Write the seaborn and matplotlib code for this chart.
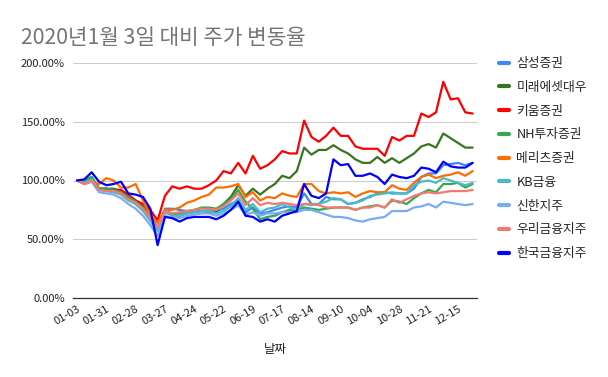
import numpy as np
import pandas as pd
import matplotlib
matplotlib.use('Agg')
import matplotlib.pyplot as plt
from matplotlib.ticker import PercentFormatter
from matplotlib.lines import Line2D
import seaborn as sns

# =============================================================================
# DATOS (% respecto al 2020-01-03)
# =============================================================================
fechas = ['01-03', '01-10', '01-17', '01-24', '01-31', '02-07', '02-14', '02-21', '02-28', '03-06',
          '03-13', '03-20', '03-27', '04-03', '04-10', '04-17', '04-24', '05-01', '05-08', '05-15',
          '05-22', '05-29', '06-05', '06-12', '06-19', '06-26', '07-03', '07-10', '07-17', '07-24',
          '07-31', '08-07', '08-14', '08-21', '08-28', '09-04', '09-10', '09-16', '09-22', '09-28',
          '10-04', '10-10', '10-16', '10-22', '10-28', '11-03', '11-09', '11-15', '11-21', '11-27',
          '12-03', '12-09', '12-15', '12-21', '12-27']

samsung = [100, 98, 101, 93, 92, 91, 89, 84, 80, 75, 66, 57, 76, 76, 75, 74, 74, 74, 75, 74,
           76, 80, 83, 73, 77, 72, 73, 75, 77, 78, 77, 89, 80, 80, 86, 84, 84, 80, 81, 84,
           86, 89, 90, 89, 89, 89, 93, 103, 106, 106, 113, 114, 115, 113, 115]
mirae = [100, 100, 103, 93, 93, 93, 91, 86, 83, 78, 70, 60, 73, 71, 70, 72, 73, 74, 73, 73,
         80, 86, 96, 87, 93, 88, 93, 97, 104, 102, 108, 128, 122, 126, 126, 130, 126, 123, 118, 115,
         115, 120, 115, 119, 115, 119, 123, 129, 131, 128, 140, 136, 132, 128, 128]
kiwoom = [100, 99, 102, 93, 93, 92, 92, 88, 83, 80, 75, 66, 87, 95, 93, 95, 93, 93, 96, 100,
          108, 106, 115, 106, 121, 110, 113, 118, 125, 123, 123, 151, 137, 133, 138, 145, 138, 138, 129, 127,
          127, 127, 121, 137, 134, 138, 138, 157, 154, 158, 184, 169, 170, 158, 157]
nh = [100, 99, 103, 93, 93, 92, 90, 86, 82, 77, 68, 60, 74, 72, 72, 74, 75, 77, 77, 76,
      80, 84, 92, 82, 76, 67, 69, 70, 73, 75, 75, 77, 76, 75, 76, 77, 77, 77, 75, 77,
      78, 79, 77, 83, 82, 80, 85, 89, 92, 90, 97, 97, 98, 94, 97]
meritz = [100, 97, 99, 97, 102, 100, 94, 94, 97, 83, 70, 64, 75, 75, 77, 81, 83, 86, 88, 94,
          94, 95, 97, 86, 90, 83, 86, 85, 89, 87, 86, 97, 97, 91, 89, 90, 89, 90, 86, 89,
          91, 90, 90, 96, 93, 92, 98, 103, 105, 102, 104, 105, 107, 104, 108]
kb = [100, 98, 101, 92, 91, 90, 88, 83, 80, 74, 66, 57, 73, 70, 70, 72, 73, 74, 74, 72,
      74, 78, 85, 75, 80, 73, 76, 77, 80, 77, 75, 80, 79, 80, 82, 85, 84, 80, 81, 83,
      87, 88, 89, 90, 89, 89, 96, 99, 100, 98, 102, 100, 98, 96, 98]
shinhan = [100, 97, 99, 90, 89, 88, 85, 80, 76, 70, 62, 53, 70, 68, 68, 70, 71, 72, 72, 70,
           72, 75, 79, 71, 73, 70, 72, 72, 73, 73, 73, 75, 75, 73, 71, 69, 69, 68, 66, 65,
           67, 68, 69, 74, 74, 74, 77, 78, 80, 77, 82, 81, 80, 79, 80]
woori = [100, 97, 100, 92, 91, 91, 89, 84, 81, 76, 68, 60, 74, 72, 73, 74, 75, 76, 76, 75,
         78, 83, 89, 79, 85, 79, 81, 80, 81, 80, 79, 80, 80, 79, 77, 77, 77, 77, 75, 77,
         77, 79, 77, 84, 81, 84, 87, 89, 90, 89, 90, 91, 91, 91, 92]
hankook = [100, 101, 107, 99, 96, 97, 99, 89, 88, 86, 76, 45, 69, 68, 65, 68, 69, 69, 69, 67,
           70, 75, 82, 70, 69, 65, 67, 65, 70, 72, 74, 97, 87, 85, 89, 118, 113, 114, 104, 104,
           106, 103, 97, 105, 103, 102, 104, 111, 110, 107, 116, 112, 111, 111, 115]

nombres = ['삼성증권', '미래에셋대우', '키움증권', 'NH투자증권', '메리츠증권',
           'KB금융', '신한지주', '우리금융지주', '한국금융지주']
series = [samsung, mirae, kiwoom, nh, meritz, kb, shinhan, woori, hankook]
colores = ['#4285F4', '#38761D', '#FF0000', '#34A853', '#FF6D01',
           '#46BDC6', '#7BAAF7', '#F07B72', '#0000FF']

filas = []
for nombre, valores in zip(nombres, series):
    for i, v in enumerate(valores):
        filas.append({'idx': i, 'fecha': fechas[i], 'valor': v, 'empresa': nombre})
df = pd.DataFrame(filas)

# =============================================================================
# GRAFICO
# =============================================================================
sns.set_style('white')
plt.rcParams['font.family'] = ['Noto Sans CJK KR', 'DejaVu Sans']

fig = plt.figure(figsize=(6.08, 3.77), dpi=100)
ax = fig.add_axes([73 / 608, 1 - 298 / 377, 404 / 608, 235 / 377])

sns.lineplot(data=df, x='idx', y='valor', hue='empresa', hue_order=nombres,
             palette=colores, linewidth=1.6, legend=False, ax=ax)

ax.set_xlim(-0.55, len(fechas) - 1 + 0.6)
ax.set_ylim(0, 200)
ax.set_yticks([0, 50, 100, 150, 200])
ax.yaxis.set_major_formatter(PercentFormatter(decimals=2))
ax.grid(axis='y', color='#cccccc', linewidth=0.8)
ax.grid(axis='x', visible=False)
for lado in ['top', 'right', 'left']:
    ax.spines[lado].set_visible(False)
ax.spines['bottom'].set_color('#333333')
ax.spines['bottom'].set_linewidth(0.9)

pos = list(range(0, len(fechas), 4))
ax.set_xticks(pos)
ax.set_xticklabels([fechas[p] for p in pos], rotation=30, ha='right',
                   rotation_mode='anchor', fontsize=8, color='#222222')
ax.tick_params(axis='both', length=0, pad=4)
ax.tick_params(axis='y', labelsize=8, labelcolor='#222222', pad=6)
ax.set_xlabel('날짜', fontsize=9, color='#222222', labelpad=12)
ax.set_ylabel('')

fig.text(21 / 608, 1 - 38 / 377, '2020년1월 3일 대비 주가 변동율', fontsize=15.3,
         fontweight='light', color='#757575', va='center', ha='left')

handles = [Line2D([0], [0], color=c, linewidth=3) for c in colores]
fig.legend(handles, nombres, loc='upper left', bbox_to_anchor=(494 / 608, 1 - 52 / 377),
           frameon=False, fontsize=9.2, handlelength=0.75, handletextpad=0.6,
           labelspacing=0.84, borderaxespad=0)

plt.savefig('out.png', dpi=100)
plt.close()
